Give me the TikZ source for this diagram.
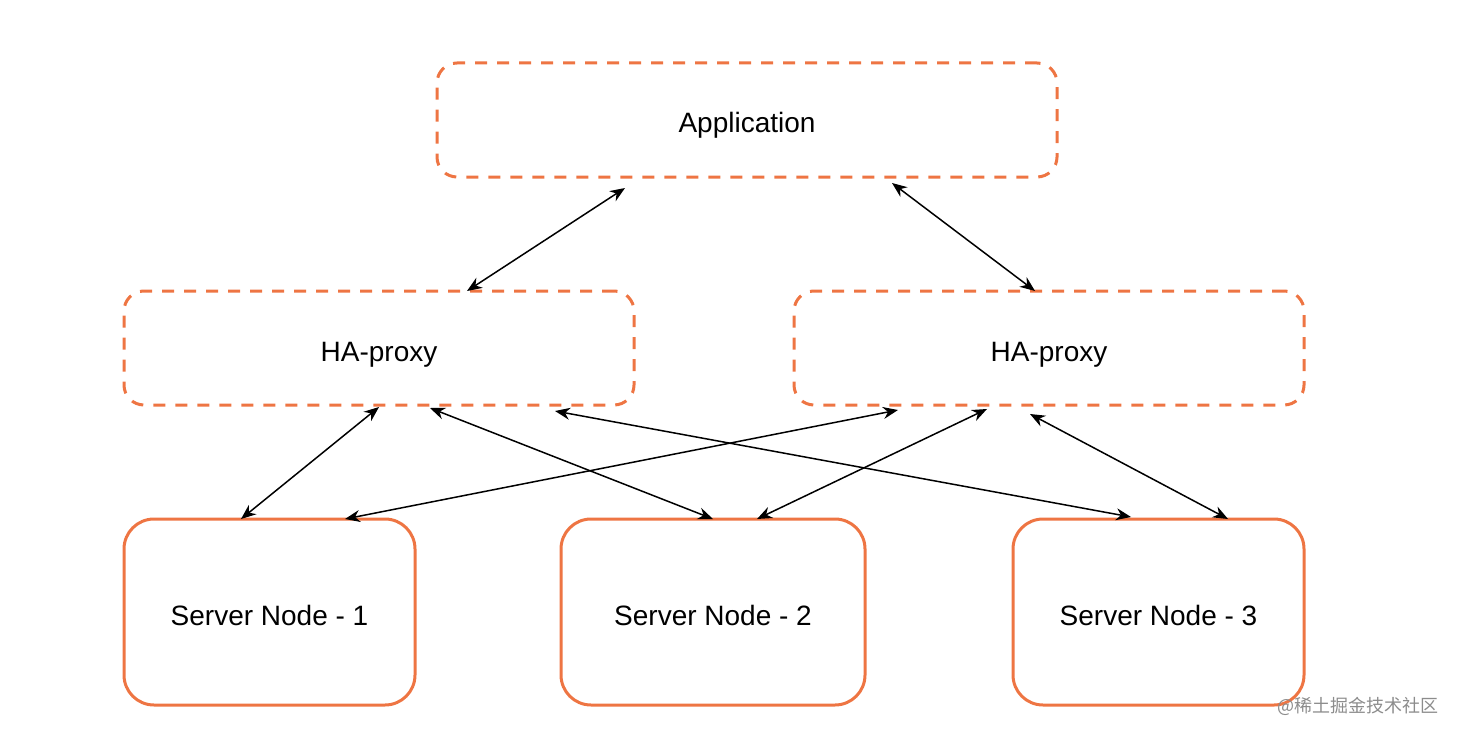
\documentclass[tikz,border=0pt]{standalone}
\usepackage{fontspec}
\setmainfont{Liberation Sans}
\newfontfamily\cjkfont{Noto Sans CJK SC}
\usetikzlibrary{arrows.meta}
\definecolor{haorange}{HTML}{EE7543}

\tikzset{
  proxybox/.style={draw=haorange, line width=1.5pt, dash pattern=on 6pt off 5pt,
    rounded corners=10pt, minimum height=57pt, text height=15pt, text depth=2pt,
    font=\fontsize{14}{16}\selectfont},
  serverbox/.style={draw=haorange, line width=1.5pt, rounded corners=15pt,
    minimum width=145.5pt, minimum height=93pt, text height=15pt, text depth=2pt,
    font=\fontsize{14}{16}\selectfont},
  link/.style={{Stealth[length=7.5pt,width=6pt]}-{Stealth[length=7.5pt,width=6pt]}, line width=0.75pt}
}

\begin{document}
\begin{tikzpicture}[x=0.5pt,y=-0.5pt]
\useasboundingbox (0,0) rectangle (1460,738);
% boxes
\node[proxybox, minimum width=310pt] (app) at (747,120) {Application};
\node[proxybox, minimum width=255pt] (ha1) at (379,348) {HA-proxy};
\node[proxybox, minimum width=255pt] (ha2) at (1049,348) {HA-proxy};
\node[serverbox] (s1) at (269.5,612) {Server Node - 1};
\node[serverbox, minimum width=152pt] (s2) at (713,612) {Server Node - 2};
\node[serverbox] (s3) at (1158.5,612) {Server Node - 3};
% arrow ends
\coordinate (appL) at (625,188);
\coordinate (appR) at (892,183);
\coordinate (ha1a) at (467,291);
\coordinate (ha2a) at (1035,291);
\coordinate (ha1b) at (379,407);
\coordinate (ha1c) at (430,408);
\coordinate (ha1d) at (555,411);
\coordinate (ha2b) at (898,410);
\coordinate (ha2c) at (987,409);
\coordinate (ha2d) at (1030,414);
\coordinate (s1a) at (241,519);
\coordinate (s1b) at (345,519);
\coordinate (s2a) at (713,519);
\coordinate (s2b) at (757,519);
\coordinate (s3a) at (1131,517);
\coordinate (s3b) at (1228,519);
% links
\draw[link] (appL) -- (ha1a);
\draw[link] (appR) -- (ha2a);
\draw[link] (ha1b) -- (s1a);
\draw[link] (ha1c) -- (s2a);
\draw[link] (ha1d) -- (s3a);
\draw[link] (ha2b) -- (s1b);
\draw[link] (ha2c) -- (s2b);
\draw[link] (ha2d) -- (s3b);
% watermark
\node[anchor=west, text=black!45, font=\cjkfont\fontsize{9}{11}\selectfont, inner sep=0pt] (mark) at (1277,706) {@稀土掘金技术社区};
\end{tikzpicture}
\end{document}
